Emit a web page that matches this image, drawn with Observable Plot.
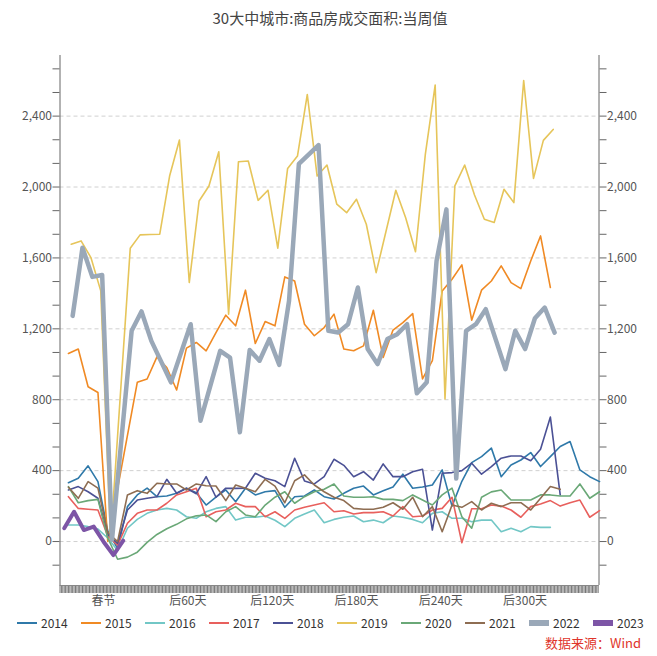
<!DOCTYPE html>
<html>
<head>
<meta charset="utf-8">
<script src="https://cdn.jsdelivr.net/npm/d3@7"></script>
<script src="https://cdn.jsdelivr.net/npm/@observablehq/plot@0.6"></script>
<style>
  html, body { margin: 0; padding: 0; background: #fff; }
  body { width: 657px; height: 656px; position: relative; overflow: hidden;
         font-family: "Noto Sans CJK SC", "Noto Sans", sans-serif; }
  #title { position: absolute; top: 7px; left: 0; width: 660px; text-align: center;
           font-size: 15px; color: #444; line-height: 22px; }
  #chart { position: absolute; top: 40px; left: 0; }
  #legend { position: absolute; top: 616px; left: 17px; display: flex; }
  .item { width: 64px; display: flex; align-items: center; font-size: 12px; color: #333; line-height: 14px; height: 14px; }
  .sw { display: inline-block; width: 20px; margin-right: 4px; }
  #source { position: absolute; top: 635px; right: 16px; font-size: 13px; color: #e0352b; line-height: 15px; }
</style>
</head>
<body>
<div id="title">30大中城市:商品房成交面积:当周值</div>
<div id="chart"></div>
<div id="legend"></div>
<div id="source">数据来源：Wind</div>
<script>
// ---- data: weekly values (万平方米), x = days relative to Spring Festival ----
const years = ["2014","2015","2016","2017","2018","2019","2020","2021","2022","2023"];
const colors = ["#2f79a9","#f08a24","#72c7c6","#e8605d","#4b5195","#e6c55a","#6aa877","#8e6d52","#9aa8b8","#7d55a6"];
const widths = [1.6,1.6,1.6,1.6,1.6,1.6,1.6,1.6,4.5,4];
const startDays = [-25,-25,-25,-25,-25,-23,-25,-25,-22,-28];

const v2014 = [332,357,427,338,60,-40,197,263,301,253,257,272,301,275,206,250,291,225,301,263,281,287,193,253,257,291,253,240,272,301,313,263,286,308,380,301,308,319,404,200,340,445,479,527,366,432,460,502,423,479,536,564,404,366,338];
const v2015 = [1061,1086,873,841,0,null,null,898,917,1042,982,855,1091,1123,1076,1179,1277,1217,1418,1117,1241,1217,1493,1470,1226,1161,1207,1283,1086,1076,1104,1305,1038,1193,1235,1286,917,1020,1414,1480,1561,1249,1418,1470,1555,1461,1427,1583,1724,1433];
const v2016 = [93,93,84,70,20,-50,75,125,159,178,187,178,140,131,168,187,197,121,137,137,144,120,84,131,155,178,106,125,137,144,112,121,106,144,137,125,106,159,168,131,131,112,121,121,55,75,55,84,80,80];
const v2017 = [253,187,182,178,30,-20,103,159,178,178,216,263,281,300,140,168,178,216,197,197,140,168,131,178,193,206,219,168,174,155,163,163,168,144,197,140,144,178,187,250,-7,185,185,206,200,178,137,197,212,231,200,219,234,137,174];
const v2018 = [291,310,281,244,40,-10,178,234,244,253,351,272,301,270,366,250,301,300,301,385,357,343,310,470,342,325,366,464,430,366,394,347,438,366,366,394,408,65,385,389,400,442,380,423,470,483,483,456,521,702,263];
const v2019 = [1677,1696,1602,1414,10,null,1655,1730,1732,1734,2062,2265,1461,1921,2006,2199,1283,2143,2147,1925,1982,1655,2105,2175,2522,2062,2124,1903,1855,1931,1790,1517,null,1982,1827,1635,2184,2575,804,2006,2124,1955,1818,1800,1987,1912,2601,2049,2263,2325];
const v2020 = [310,219,231,238,20,-100,-88,-60,-5,40,72,97,128,145,150,112,168,197,150,140,206,250,281,216,253,281,295,325,257,250,250,253,238,238,231,263,234,206,263,301,140,75,250,280,291,234,234,234,263,263,257,257,325,244,281];
const v2021 = [306,244,338,301,50,0,263,287,272,329,325,325,291,325,315,313,231,319,301,281,351,313,219,343,376,319,281,250,231,187,182,182,193,219,182,250,140,197,55,206,193,225,178,216,197,219,219,178,244,310,295];
const v2022 = [1273,1658,1493,1504,10,null,1189,1298,1132,null,898,null,1226,682,null,1076,1038,616,1080,1020,1142,997,1358,2131,null,2237,1189,1179,1226,1433,1086,1001,1142,1170,1226,836,898,1583,1874,355,1189,1226,1311,1142,973,1189,1086,1260,1320,1179];
const v2023 = [75,168,65,84,-1,-76,5];

const seriesValues = [v2014,v2015,v2016,v2017,v2018,v2019,v2020,v2021,v2022,v2023];

// tick definitions
const xLabelDays = [0,60,120,180,240,300];
const yLabelStep = 400;

// ---- build table ----
const rows = [];
years.forEach((yr, i) => {
  seriesValues[i].forEach((v, k) => {
    if (v !== null) rows.push({year: yr, day: startDays[i] + 7 * k, value: v});
  });
});

const xDomain = [-31, 352.6];
const yDomain = [-248, 2742];
const xTicks = d3.range(-31, 353);
const yTicks = d3.range(-1, 21).map(k => k * yLabelStep / 3);
const fmt = d3.format(",");
const yFmt = v => (Number.isInteger(v) && v % yLabelStep === 0 && v >= 0) ? fmt(v) : "";
const xFmt = d => d === 0 ? "春节" : (xLabelDays.includes(d) ? `后${d}天` : "");

const marks = [
  Plot.gridY([0,400,800,1200,1600,2000,2400], {stroke: "#d0d0d0", strokeOpacity: 1, strokeDasharray: "4,3"}),
  Plot.axisX({ticks: xTicks, tickFormat: xFmt, tickSize: 8, tickPadding: 3, stroke: "#777", strokeOpacity: 1, color: "#555", fontSize: 12, label: null}),
  Plot.axisY({anchor: "left", ticks: yTicks, tickFormat: yFmt, tickSize: 7, tickPadding: 1, stroke: "#666", color: "#555", fontSize: 12, label: null}),
  Plot.axisY({anchor: "right", ticks: yTicks, tickFormat: yFmt, tickSize: 7, tickPadding: 1, stroke: "#666", color: "#555", fontSize: 12, label: null}),
  Plot.ruleX([xDomain[0], xDomain[1]], {stroke: "#666"}),
  Plot.ruleY([yDomain[0]], {stroke: "#888"})
];
years.forEach((yr, i) => {
  marks.push(Plot.line(rows.filter(r => r.year === yr), {
    x: "day", y: "value", stroke: colors[i], strokeWidth: widths[i],
    strokeLinejoin: "round", strokeLinecap: "round"
  }));
});

const chart = Plot.plot({
  width: 657, height: 570,
  marginLeft: 59.5, marginRight: 58.5, marginTop: 15, marginBottom: 25,
  x: {domain: xDomain, label: null},
  y: {domain: yDomain, label: null},
  style: {fontFamily: "Noto Sans CJK SC, Noto Sans, sans-serif", fontSize: "12px", background: "transparent"},
  marks
});
document.getElementById("chart").appendChild(chart);

// legend
const legend = document.getElementById("legend");
years.forEach((yr, i) => {
  const it = document.createElement("div");
  it.className = "item";
  const sw = document.createElement("span");
  sw.className = "sw";
  sw.style.height = widths[i] > 2 ? "6px" : "2px";
  sw.style.background = colors[i];
  it.appendChild(sw);
  it.appendChild(document.createTextNode(yr));
  legend.appendChild(it);
});
</script>
</body>
</html>
